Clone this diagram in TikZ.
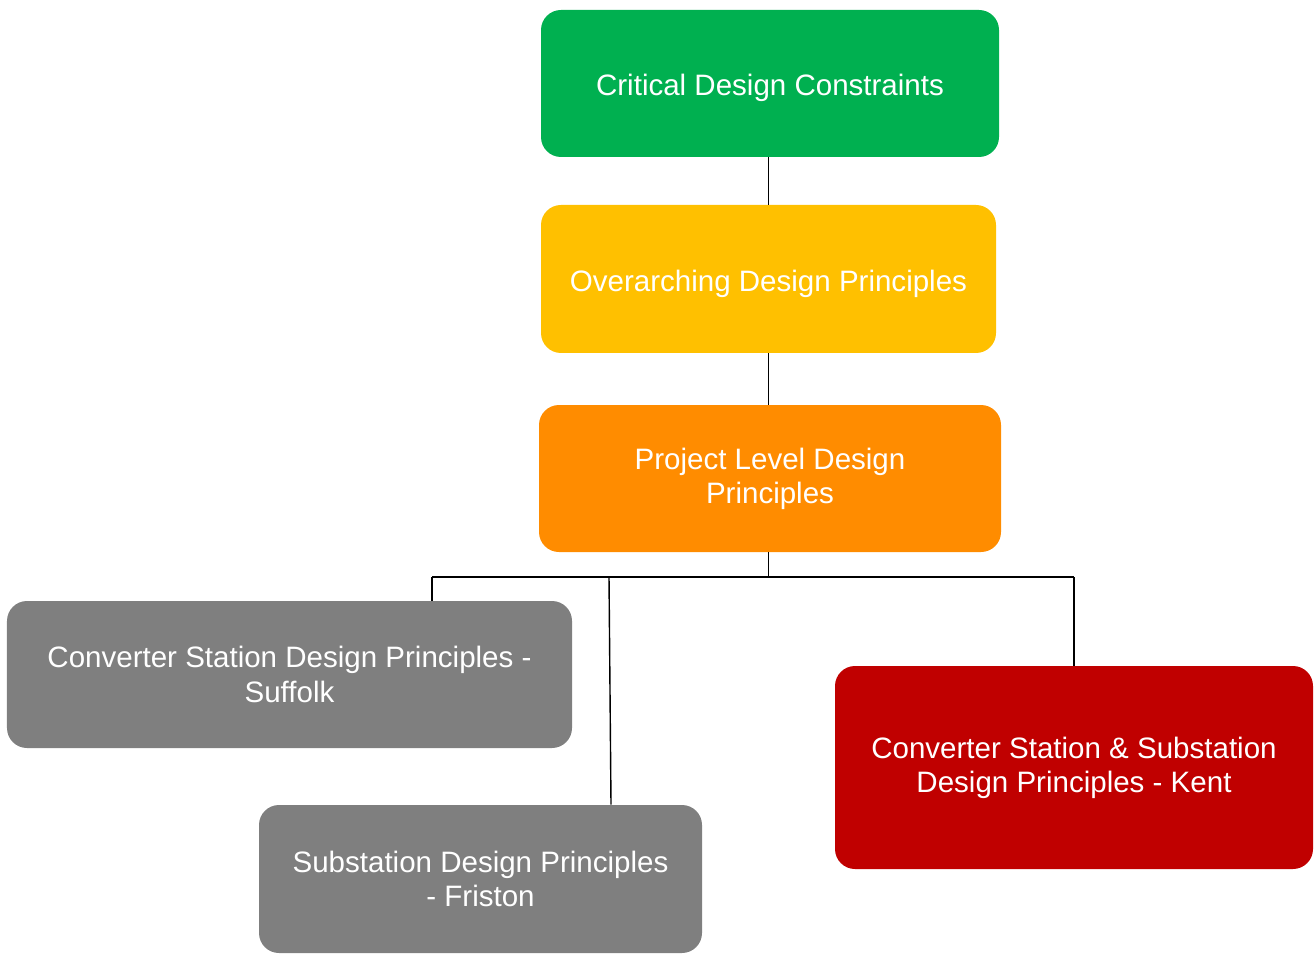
\documentclass[tikz,border=0pt]{standalone}
\usepackage{fontspec}
\setmainfont{Liberation Sans}
\usepackage{xcolor}
\definecolor{box-green}{HTML}{00B050}
\definecolor{box-yellow}{HTML}{FFC000}
\definecolor{box-orange}{HTML}{FF8C00}
\definecolor{box-grey}{HTML}{7F7F7F}
\definecolor{box-red}{HTML}{C00000}
\tikzset{
    design-box/.style = {rectangle, rounded corners=0.4cm, text=white, align=center, inner sep=0pt, font=\fontsize{16.8}{19.5}\selectfont, execute at begin node={\rule{0pt}{17.6pt}}},
    tree-line/.style = {draw=black, line width=0.8pt},
}

\begin{document}
\begin{tikzpicture}
\useasboundingbox (0,0) rectangle (26.28,-19.12);
\node [design-box, fill=box-green, minimum width=9.16cm, minimum height=2.94cm] (critical) at (15.40,-1.67) {Critical Design Constraints};
\node [design-box, fill=box-yellow, minimum width=9.10cm, minimum height=2.96cm] (overarching) at (15.37,-5.58) {Overarching Design Principles};
\node [design-box, fill=box-orange, minimum width=9.24cm, minimum height=2.94cm] (project) at (15.40,-9.57) {Project Level Design\\Principles};
\node [design-box, fill=box-grey, minimum width=11.30cm, minimum height=2.94cm] (suffolk) at (5.79,-13.49) {Converter Station Design Principles -\\Suffolk};
\node [design-box, fill=box-grey, minimum width=8.86cm, minimum height=2.96cm] (friston) at (9.61,-17.58) {Substation Design Principles\\- Friston};
\node [design-box, fill=box-red, minimum width=9.56cm, minimum height=4.06cm] (kent) at (21.48,-15.35) {Converter Station \& Substation\\Design Principles - Kent};

% connectors
\coordinate (bus-left) at (8.64,-11.54);
\coordinate (bus-friston) at (12.18,-11.54);
\coordinate (bus-right) at (21.48,-11.54);
\draw [tree-line] (overarching.north) -- (overarching.north |- critical.south);
\draw [tree-line] (overarching.south) -- (overarching.south |- project.north);
\draw [tree-line] (project.south -| overarching.south) -- (bus-left -| overarching.south);
\draw [tree-line] (bus-left) -- (bus-right);
\draw [tree-line] (bus-left) -- (bus-left |- suffolk.north);
\draw [tree-line] (bus-friston) -- ([xshift=2.61cm]friston.north);
\draw [tree-line] (bus-right) -- (kent.north);
\end{tikzpicture}
\end{document}
